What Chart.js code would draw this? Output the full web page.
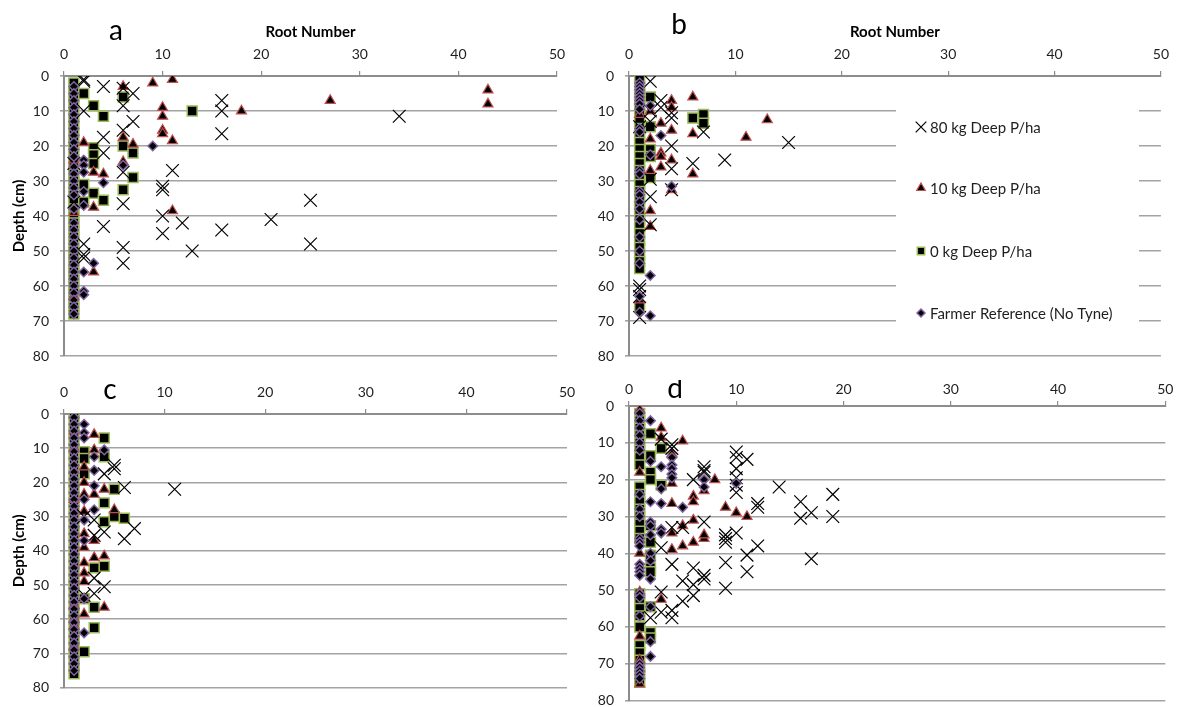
<!DOCTYPE html>
<html>
<head>
<meta charset="utf-8">
<script src="https://cdn.jsdelivr.net/npm/chart.js@4.4.1/dist/chart.umd.min.js"></script>
<style>
  body { margin: 0; background: #fff; overflow: hidden; }
  #wrap { position: relative; width: 1177px; height: 707px; }
  canvas { position: absolute; }
</style>
</head>
<body>
<div id="wrap">
  <canvas id="panelA" width="590" height="380" style="left:0;top:0"></canvas>
  <canvas id="panelB" width="587" height="380" style="left:590px;top:0"></canvas>
  <canvas id="panelC" width="590" height="327" style="left:0;top:380px"></canvas>
  <canvas id="panelD" width="587" height="340" style="left:590px;top:380px"></canvas>
</div>
<script>
// Series names (legend order)
const seriesNames = ['80 kg Deep P/ha', '10 kg Deep P/ha', '0 kg Deep P/ha', 'Farmer Reference (No Tyne)'];
const xTicks = [0, 10, 20, 30, 40, 50];
const yTicks = [0, 10, 20, 30, 40, 50, 60, 70, 80];

// Data points as [root number, depth cm]
// Panel a
const a80 = [[2,1],[2,1.5],[4,3],[6,3.5],[7,5],[2,10],[6,8.5],[16,7],[16,10],[16,16.5],[7,13],[6,15.5],[4,17.5],[4,22],
  [11,27],[6,27.5],[10,31.5],[10,32.5],[6,36.5],[10,40],[12,42],[4,43],[16,44],[10,45],[21,41],[13,50],[6,49],[2,48],
  [2,51],[2,52],[6,53.5],[34,11.5],[25,35.5],[25,48],[1,25],[1,36]];
const a10 = [[6,3],[9,2],[11,1],[10,9],[10,11.5],[18,10],[10,15.5],[10,16.5],[11,18.5],[6,17.5],[2,19],[7,19.5],[6,24.5],
  [3,27.5],[4,28],[27,7],[43,4],[43,8],[11,38.5],[3,37.5],[3,56],[1,24],[1,39],[1,63]];
const a0 = [[1,2],[1,4],[1,6],[1,8],[1,10],[1,12],[1,14],[1,16],[1,18],[1,20],[1,22],[1,24],[1,26],[1,28],[1,30],[1,32],
  [1,34],[1,36],[1,38],[1,40],[1,42],[1,44],[1,46],[1,48],[1,50],[1,52],[1,54],[1,56],[1,58],[1,60],[1,62],[1,64],[1,66],[1,68],
  [2,5],[6,6],[3,8.5],[4,11.5],[13,10],[3,20.5],[3,22.5],[6,20],[7,22],[3,25],[7,29],[2,31],[6,32.5],[3,33.5],[4,35.5],[2,36]];
const aFarm = [[1,3],[1,5],[1,7],[1,9],[1,11],[1,13],[1,15],[1,17],[1,19],[1,21],[1,23],[1,26],[1,28],[1,30],[1,32],[1,34],
  [1,38],[1,42],[1,44],[1,46],[1,48],[1,50],[1,52],[1,54],[1,56],[1,58],[1,60],[1,62],[1,64],[1,66],[1,68],
  [2,24],[2,25.5],[2,27.5],[9,20],[6,25.5],[4,30.5],[2,33],[2,37],[3,53.5],[2,56],[2,61.5],[2,62.5]];

// Panel b
const b80 = [[2,1.5],[3,7],[3,9],[4,10.5],[2,13],[1,14.5],[7,16],[4,20],[6,25],[9,24],[15,19],[4,26.5],[2,29.5],[2,34.5],
  [4,32.5],[2,42.5],[1,60],[1,61],[1,63],[1,69],[2,10],[4,12]];
const b10 = [[4,7],[4,9],[6,6],[2,10],[3,13.5],[4,15.5],[6,16.5],[2,18],[11,17.5],[13,12.5],[3,22],[3,23],[4,24],[3,26],
  [2,27],[6,28],[4,32.5],[2,38.5],[2,43],[1,11],[1,64]];
const b0 = [[1,1],[1,3],[1,5],[1,7],[1,9],[1,11],[1,13],[1,15],[1,17],[1,19],[1,21],[1,23],[1,25],[1,27],[1,29],[1,31],
  [1,33],[1,35],[1,37],[1,39],[1,41],[1,43],[1,45],[1,47],[1,49],[1,51],[1,53],[1,55],[1,66],
  [2,6],[6,12],[7,11],[7,13.5],[2,14.5],[2,21],[2,23],[2,29]];
const bFarm = [[1,2],[1,3],[1,4],[1,5],[1,6],[1,7],[1,8],[1,9.5],[1,15],[1,16],[1,27],[1,28],[1,33],[1,34],[1,36],[1,38],
  [1,41],[1,46],[1,50],[1,53.5],[1,63],[1,67.5],[2,8.5],[3,17],[2,22.5],[4,31.5],[2,57],[2,68.5]];

// Panel c
const c80 = [[5,15],[5,16],[4,17.5],[6,21.5],[11,22],[3,31],[7,33.5],[6,36.5],[4,34.5],[3,35.5],[4,50.5],[3,48],[3,52.5],
  [2,30],[2,53]];
const c10 = [[3,6],[3,10.5],[2,15.5],[1,16.5],[2,20],[2,23.5],[4,22],[3,23.5],[5,28],[2,28.5],[2,35],[3,37],[2,39],[4,41.5],
  [3,42],[2,43.5],[2,46.5],[2,49],[2,54],[4,56.5],[2,58.5],[1,68],[1,5],[1,10],[1,56],[1,60],[1,62],[1,25]];
const c0 = [[1,0],[1,2],[1,4],[1,6],[1,8],[1,10],[1,12],[1,14],[1,16],[1,18],[1,20],[1,22],[1,24],[1,26],[1,28],[1,30],
  [1,32],[1,34],[1,36],[1,38],[1,40],[1,42],[1,44],[1,46],[1,48],[1,50],[1,52],[1,54],[1,56],[1,58],[1,60],[1,62],[1,64],
  [1,66],[1,68],[1,70],[1,72],[1,74],[1,76],
  [4,7],[2,11],[4,12.5],[2,13],[2,17.5],[5,22],[4,26],[6,30.5],[4,31.5],[5,30],[4,44.5],[3,45],[3,56.5],[2,54],[3,62.5],[2,69.5]];
const cFarm = [[1,1],[1,3],[1,5],[1,7],[1,9],[1,11],[1,13],[1,15],[1,17],[1,19],[1,21],[1,23],[1,25],[1,27],[1,29],[1,31],
  [1,33],[1,35],[1,37],[1,39],[1,41],[1,43],[1,45],[1,47],[1,49],[1,51],[1,53],[1,55],[1,57],[1,59],[1,61],[1,63],[1,65],
  [1,67],[1,69],[1,71],[1,73],[1,75],
  [2,3],[2,5.5],[2,7],[4,10.5],[3,12.5],[3,16.5],[3,21],[3,28],[2,31],[2,54],[2,64],[2,25],[2,37]];

// Panel d
const d80 = [[4,10.5],[4,11.5],[10,12.5],[10,14],[11,14.5],[10,17],[10,19.5],[10,21.5],[10,23.5],[7,16.5],[7,17.5],[7,18],
  [6,20],[14,22],[12,26.5],[12,27.5],[16,26],[16,30.5],[17,29],[19,24],[19,30],[7,31.5],[10,34.5],[9,35],[9,36],[9,37],
  [12,38],[11,40.5],[17,41.5],[9,42.5],[11,45],[9,49.5],[4,43],[3,38.5],[6,44],[7,46],[7,47],[6,48.5],[5,47.5],[6,51.5],
  [5,53],[4,55.5],[3,56],[4,57.5],[2,57.5],[3,50.5],[3,9],[5,33],[4,33]];
const d10 = [[1,1],[3,6],[3,8.5],[5,9.5],[4,13],[4,21],[4,26.5],[6,24.5],[6,26],[8,20],[7,23],[9,27.5],[10,29],[11,30],
  [4,34.5],[5,32.5],[6,31],[7,36],[7,35],[6,37],[5,38],[4,39],[1,40],[1,18],[3,52.5],[1,50.5],[1,62.5],[1,75.5],[1,69]];
const d0 = [[1,2],[1,4],[1,6],[1,8],[1,10],[1,12],[1,14],[1,16],[1,22],[1,24],[1,26],[1,28],[1,30],[1,32],[1,34],[1,36],
  [1,51],[1,53],[1,55],[1,57],[1,60],[1,65],[1,67],[1,69],[1,71],[1,73],[1,75],
  [2,7.5],[3,11.5],[2,13.5],[2,18],[2,20],[3,21.5],[2,32.5],[2,37],[2,40.5],[2,44],[2,45],[2,54.5],[2,61.5],[2,63]];
const dFarm = [[1,2],[1,4],[1,6],[1,8],[1,10],[1,12],[1,24],[1,28],[1,30],[1,36],[1,37],[1,38],[1,43],[1,44],[1,45],[1,46],
  [1,51],[1,52],[1,57],[1,70],[1,71],[1,72],[1,73],[1,74],
  [2,4],[2,15],[3,16.5],[4,14],[4,16],[4,17],[4,18.5],[4,19.5],[3,22.5],[2,26],[3,26.5],[5,27.5],[2,31.5],[2,32.5],[3,33.5],
  [3,34.5],[2,35],[7,20],[7,22],[10,21],[2,40],[2,42],[2,47],[2,54.5],[2,64],[2,68]];

const FONT = 'Lato, "Open Sans", sans-serif';
const GRID = '#a3a3a3';
const AXIS = '#8c8c8c';
const TEXT = '#1e1e1e';

const markerStyles = [
  { pointStyle: 'crossRot', radius: 9, bg: 'rgba(0,0,0,0)', border: '#000000', width: 1.2, order: 1 },
  { pointStyle: 'triangle', radius: 5.8, bg: '#000000', border: '#c0504d', width: 1.2, order: 2 },
  { pointStyle: 'rect', radius: 7, bg: '#000000', border: '#9bbb59', width: 1.5, order: 3 },
  { pointStyle: 'rectRot', radius: 4.8, bg: '#000000', border: '#8064a2', width: 1.5, order: 0 }
];

function toXY(list) {
  return list.map(p => ({ x: p[0], y: p[1] }));
}

// letter label + optional legend, drawn on the chart canvas
const panelDecor = {
  id: 'panelDecor',
  beforeDatasetsDraw(chart) {
    const deco = chart.options.plugins.panelDecor;
    if (!deco.legend) return;
    const ctx = chart.ctx;
    ctx.save();
    ctx.fillStyle = '#ffffff';
    ctx.fillRect(deco.legend.x, chart.chartArea.top + 2, deco.legend.w, chart.chartArea.bottom - chart.chartArea.top - 4);
    ctx.restore();
  },
  afterDraw(chart) {
    const deco = chart.options.plugins.panelDecor;
    const ctx = chart.ctx;
    ctx.save();
    ctx.fillStyle = '#000';
    ctx.font = '28px ' + FONT;
    ctx.textAlign = 'center';
    ctx.textBaseline = 'alphabetic';
    ctx.fillText(deco.letter, deco.lx, deco.ly);
    if (deco.legend) {
      const sizes = [7.5, 5, 5.2, 4];
      ctx.font = '15px ' + FONT;
      ctx.textAlign = 'left';
      ctx.textBaseline = 'middle';
      seriesNames.forEach((name, i) => {
        const m = markerStyles[i];
        const y = deco.legend.rows[i];
        ctx.fillStyle = m.bg;
        ctx.strokeStyle = m.border;
        ctx.lineWidth = m.width;
        Chart.helpers.drawPoint(ctx, { pointStyle: m.pointStyle, radius: sizes[i], rotation: 0, borderWidth: m.width },
          deco.legend.mx, y);
        ctx.fillStyle = TEXT;
        ctx.fillText(name, deco.legend.mx + 9, y + 1);
      });
    }
    ctx.restore();
  }
};

function makePanel(id, geo, series) {
  const canvas = document.getElementById(id);
  const datasets = series.map((pts, i) => {
    const m = markerStyles[i];
    return {
      label: seriesNames[i],
      data: toXY(pts),
      order: m.order,
      pointStyle: m.pointStyle,
      pointRadius: m.radius,
      pointBackgroundColor: m.bg,
      pointBorderColor: m.border,
      pointBorderWidth: m.width,
      showLine: false
    };
  });

  return new Chart(canvas, {
    type: 'scatter',
    data: { datasets: datasets },
    options: {
      responsive: false,
      animation: false,
      layout: {
        padding: { left: 0, top: 0, right: canvas.width - geo.right, bottom: canvas.height - geo.bottom }
      },
      plugins: {
        legend: { display: false },
        tooltip: { enabled: false },
        panelDecor: { letter: geo.letter, lx: geo.lx, ly: geo.ly, legend: geo.legend }
      },
      scales: {
        x: {
          type: 'linear',
          position: 'top',
          min: 0,
          max: 50,
          afterBuildTicks: s => { s.ticks = xTicks.map(v => ({ value: v })); },
          ticks: { padding: geo.xPad, color: TEXT, font: { family: FONT, size: 14 } },
          grid: { drawOnChartArea: false, tickLength: 5, color: AXIS, lineWidth: 1.2 },
          border: { color: AXIS, width: 2 },
          title: {
            display: geo.xTitle,
            text: 'Root Number',
            color: '#000',
            font: { family: FONT, size: 15, weight: 'bold' },
            padding: { top: 23, bottom: 0 }
          },
          afterFit: s => { s.height = geo.top; }
        },
        y: {
          type: 'linear',
          reverse: true,
          min: 0,
          max: 80,
          afterBuildTicks: s => { s.ticks = yTicks.map(v => ({ value: v })); },
          ticks: { padding: 11, color: TEXT, font: { family: FONT, size: 14 } },
          grid: { color: GRID, lineWidth: 1.6, tickLength: 4 },
          border: { color: AXIS, width: 2 },
          title: {
            display: geo.yTitle,
            text: 'Depth (cm)',
            color: '#000',
            font: { family: FONT, size: 15, weight: 'bold' },
            padding: { top: 10, bottom: 0 }
          },
          afterFit: s => { s.width = geo.left; }
        }
      }
    },
    plugins: [panelDecor]
  });
}

makePanel('panelA', { left: 64, top: 76, right: 557, bottom: 356, xPad: 8, xTitle: true, yTitle: true,
  letter: 'a', lx: 116, ly: 40 }, [a80, a10, a0, aFarm]);
makePanel('panelB', { left: 39, top: 76, right: 576, bottom: 356, xPad: 8, xTitle: true, yTitle: false,
  letter: 'b', lx: 89, ly: 34,
  legend: { x: 306, w: 243, mx: 331, rows: [127, 188, 251, 313] } }, [b80, b10, b0, bFarm]);
makePanel('panelC', { left: 64, top: 34, right: 567, bottom: 314, xPad: 8.6, xTitle: false, yTitle: true,
  letter: 'c', lx: 110, ly: 19 }, [c80, c10, c0, cFarm]);
makePanel('panelD', { left: 39, top: 26, right: 576, bottom: 323, xPad: 3.6, xTitle: false, yTitle: false,
  letter: 'd', lx: 85, ly: 18 }, [d80, d10, d0, dFarm]);
</script>
</body>
</html>
